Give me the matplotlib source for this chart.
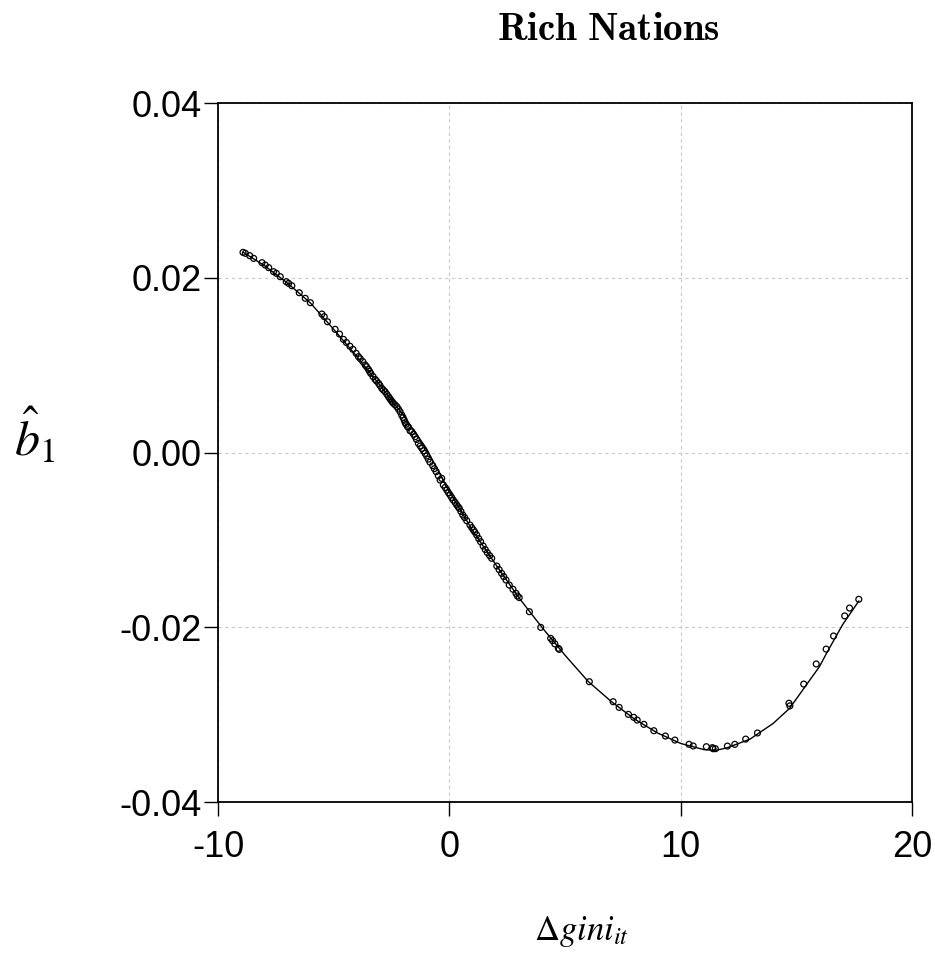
import matplotlib
matplotlib.use("Agg")
import matplotlib.pyplot as plt

plt.rcParams["axes.unicode_minus"] = False

# fitted curve
curve_x = [-8.9, -8, -7, -6, -5, -4, -3, -2, -1, 0, 1, 2, 3, 4, 5, 6, 7, 8, 9,
           10, 11, 11.5, 12, 13, 14, 14.7, 15, 16, 16.3, 17, 17.7]
curve_y = [0.0229, 0.0214, 0.0194, 0.0171, 0.0141, 0.0110, 0.0077, 0.0043, 0.0005,
           -0.0045, -0.0089, -0.0128, -0.0166, -0.0200, -0.0232, -0.0262, -0.0285,
           -0.0305, -0.0321, -0.0333, -0.0340, -0.0341, -0.0338, -0.0328, -0.0310,
           -0.0293, -0.0282, -0.0245, -0.0230, -0.0197, -0.0170]

# observations
obs_x = [-8.92, -8.82, -8.63, -8.46, -8.10, -7.96, -7.81, -7.60, -7.48, -7.31,
         -7.05, -6.95, -6.81, -6.49, -6.23, -6.01, -5.51, -5.41, -5.27, -4.94,
         -4.75, -4.58, -4.17, -4.03, -3.93, -3.74, -3.64, -3.50, -3.40, -3.21,
         -3.06, -2.92, -2.78, -2.63, -2.53, -2.42, -2.27, -2.13, -2.06, -1.91,
         -1.81, -1.77, -1.70, -1.62, -1.48, -1.34, -1.19, -1.05, -0.91, -0.72,
         -0.57, -0.40, -0.33, -0.26, -0.11, 0.03, 0.17, 0.32, 0.43, 0.58,
         0.89, 1.04, 1.18, 1.35, 1.64, 1.83, 2.05, 2.26, 2.45, 2.59,
         2.88, 2.94, 3.46, 3.95, 4.38, 4.46, 4.71, 4.75, 6.05, 7.08,
         7.34, 7.74, 7.97, 8.12, 8.41, 8.84, 9.34, 9.75, 10.36, 10.54,
         11.11, 11.37, 11.40, 11.50, 12.02, 12.34, 12.81, 13.32, 14.68, 14.72,
         15.32, 15.86, 16.29, 16.61, 17.09, 17.30, 17.70,
         -4.45, -4.30, -3.85, -3.58, -3.45, -3.30, -3.15, -3.00, -2.85, -2.70,
         -2.58, -2.47, -2.35, -2.20, -2.00, -1.95, -1.87, -1.55, -1.42, -1.26,
         -1.12, -0.98, -0.84, -0.65, -0.48, -0.18, -0.04, 0.10, 0.25, 0.38,
         0.50, 0.66, 0.75, 0.97, 1.10, 1.27, 1.46, 1.55, 1.74, 2.15,
         2.35, 2.75, 3.02, 4.56]
obs_y = [0.02291, 0.02280, 0.02253, 0.02222, 0.02173, 0.02146, 0.02116, 0.02070, 0.02051, 0.02012,
         0.01955, 0.01936, 0.01909, 0.01829, 0.01765, 0.01715, 0.01585, 0.01555, 0.01497, 0.01410,
         0.01356, 0.01295, 0.01181, 0.01135, 0.01097, 0.01040, 0.01002, 0.00952, 0.00906, 0.00837,
         0.00792, 0.00734, 0.00696, 0.00639, 0.00601, 0.00563, 0.00525, 0.00467, 0.00429, 0.00341,
         0.00296, 0.00290, 0.00250, 0.00238, 0.00181, 0.00105, 0.00048, -0.00010, -0.00076, -0.00150,
         -0.00219, -0.00315, -0.00296, -0.00372, -0.00429, -0.00486, -0.00544, -0.00601, -0.00639, -0.00715,
         -0.00830, -0.00887, -0.00944, -0.01021, -0.01146, -0.01211, -0.01299, -0.01383, -0.01459, -0.01517,
         -0.01612, -0.01642, -0.01822, -0.02001, -0.02127, -0.02154, -0.02241, -0.02253, -0.02623, -0.02852,
         -0.02917, -0.02997, -0.03031, -0.03062, -0.03111, -0.03184, -0.03245, -0.03291, -0.03340, -0.03359,
         -0.03367, -0.03378, -0.03390, -0.03390, -0.03360, -0.03340, -0.03280, -0.03210, -0.02870, -0.02900,
         -0.02650, -0.02420, -0.02250, -0.02100, -0.01870, -0.01780, -0.01680,
         0.01259, 0.01217, 0.01073, 0.00982, 0.00929, 0.00870, 0.00819, 0.00767, 0.00715, 0.00666,
         0.00620, 0.00580, 0.00546, 0.00497, 0.00400, 0.00370, 0.00323, 0.00210, 0.00150, 0.00075,
         0.00020, -0.00040, -0.00110, -0.00185, -0.00265, -0.00400, -0.00460, -0.00515, -0.00572, -0.00622,
         -0.00675, -0.00745, -0.00780, -0.00860, -0.00910, -0.00985, -0.01070, -0.01110, -0.01180, -0.01340,
         -0.01420, -0.01565, -0.01660, -0.02190]

xticks = [-10, 0, 10, 20]
yticks = [-0.04, -0.02, 0.00, 0.02, 0.04]
ytick_labels = ["-0.04", "-0.02", "0.00", "0.02", "0.04"]

fig = plt.figure(figsize=(9.35, 9.55), dpi=100)
ax = fig.add_axes([0.2332, 0.1602, 0.7422, 0.7319])

ax.plot(curve_x, curve_y, color="black", lw=1.0, zorder=3)
ax.scatter(obs_x, obs_y, s=18, facecolors="none", edgecolors="black",
           linewidths=0.9, zorder=4)

ax.set_xlim(-10, 20)
ax.set_ylim(-0.04, 0.04)
ax.set_xticks(xticks)
ax.set_yticks(yticks)
ax.set_yticklabels(ytick_labels)
ax.tick_params(direction="out", length=10, width=1.0, labelsize=26, colors="black")
ax.tick_params(axis="y", pad=2)
ax.tick_params(axis="x", pad=10)
for lab in ax.get_xticklabels() + ax.get_yticklabels():
    lab.set_fontfamily("Liberation Sans")
for sp in ax.spines.values():
    sp.set_linewidth(1.3)
ax.grid(True, color="#c8c8c8", linestyle=(0, (3, 3)), linewidth=0.8)
ax.set_axisbelow(True)

fig.text(0.651, 0.958, r"$\mathbf{Rich\ Nations}$", math_fontfamily="cm",
         fontsize=28, ha="center", va="baseline")
fig.text(0.037, 0.543, r"$\hat{b}_1$", math_fontfamily="stix",
         fontsize=36, ha="center", va="center")
fig.text(0.622, 0.016, r"$\Delta gini_{it}$", math_fontfamily="stix",
         fontsize=25, ha="center", va="baseline")

fig.savefig("out.png", dpi=100)
